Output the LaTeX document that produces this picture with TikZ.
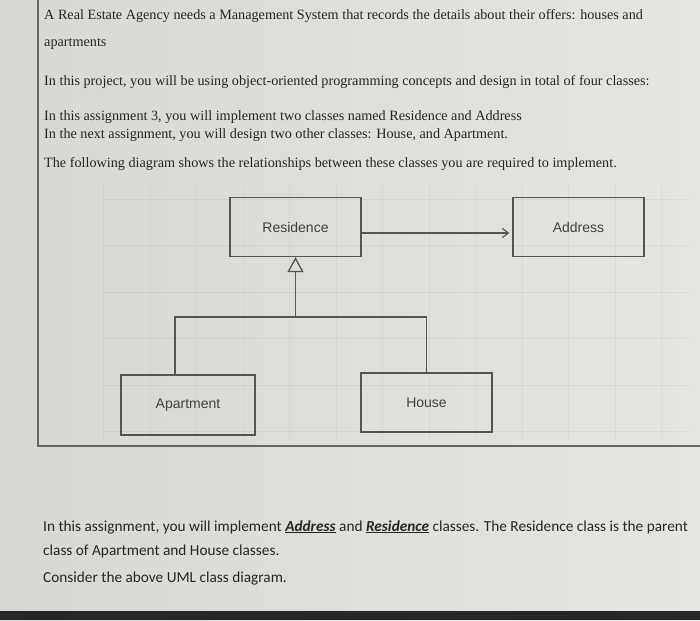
\documentclass[tikz,border=0pt]{standalone}
\usepackage{fontspec}
\setmainfont{Liberation Serif}
\setsansfont{Liberation Sans}
\newfontfamily\calib{Carlito}
\usepackage{xcolor}
\usetikzlibrary{arrows.meta,positioning,calc}
\definecolor{bgL}{HTML}{D6D9D3}
\definecolor{bgR}{HTML}{E4E6E2}
\definecolor{ink}{HTML}{262626}
\definecolor{umlline}{HTML}{555555}
\definecolor{umltext}{HTML}{404040}
\tikzset{
  cls/.style={draw=umlline,line width=1.3pt,minimum width=131pt,minimum height=59pt,inner sep=0pt,font=\sffamily\fontsize{14}{16}\selectfont,text=umltext},
  txt/.style={anchor=base west,inner sep=0pt,text=ink,font=\fontsize{14.2}{16}\selectfont},
  ntxt/.style={anchor=base west,inner sep=0pt,text=ink,font=\calib\fontsize{15.3}{17}\selectfont},
  assoc/.style={-{Straight Barb[length=6pt,width=9pt]},line width=1.2pt,draw=umlline,shorten >=3pt},
  gen/.style={-{Triangle[open,length=15pt,width=16pt]},line width=1.3pt,draw=umlline},
  link/.style={line width=1.3pt,draw=umlline},
  gridln/.style={draw=black,opacity=0.05,line width=0.8pt},
}
\begin{document}
\begin{tikzpicture}[x=1pt,y=-1pt]
\useasboundingbox (0,0) rectangle (700,620);
% screen background
\shade[left color=bgL,right color=bgR] (0,0) rectangle (700,620);
\fill[black!85] (0,611) rectangle (700,620);
\draw[black!60,line width=1.3pt] (38,0) -- (38,446) -- (700,446);
% faint grid behind the diagram
\foreach \gy in {199,245,292,338,385,431} {\draw[gridln] (103,\gy) -- (690,\gy);}
\foreach \gx in {103,150,196,243,289,336,382,429,475,522,568,615,661} {\draw[gridln,opacity=0.035] (\gx,185) -- (\gx,440);}
% assignment text
\node[txt] (intro1) at (44,20) {A Real Estate Agency needs a Management System that records the details about their offers: houses and};
\node[txt] (intro2) at (44,47) {apartments};
\node[txt] (project) at (44,86) {In this project, you will be using object-oriented programming concepts and design in total of four classes:};
\node[txt] (assign) at (44,121) {In this assignment 3, you will implement two classes named Residence and Address};
\node[txt] (next) at (44,139) {In the next assignment, you will design two other classes: House, and Apartment.};
\node[txt] (follow) at (44,168) {The following diagram shows the relationships between these classes you are required to implement.};
% class diagram
\node[cls] (Residence) at (295.5,227) {Residence};
\node[cls] (Address) at (578.5,227) {Address};
\node[cls,minimum width=134pt,minimum height=60pt] (Apartment) at (188,405) {Apartment};
\node[cls] (House) at (426.5,402.5) {House};
\coordinate (split) at (295.5,317);
\draw[assoc] ([yshift=-6pt]Residence.east) -- ([yshift=-6pt]Address.west);
\draw[link] ([xshift=-13pt]Apartment.north) |- (split) -| (House.north);
\draw[gen] (split) -- (Residence.south);
% note below
\node[ntxt] (note1) at (43,531) {In this assignment, you will implement \underline{\textbf{\textit{Address}}} and \underline{\textbf{\textit{Residence}}} classes. The Residence class is the parent};
\node[ntxt] (note2) at (43,555) {class of Apartment and House classes.};
\node[ntxt] (note3) at (43,582) {Consider the above UML class diagram.};
\end{tikzpicture}
\end{document}
